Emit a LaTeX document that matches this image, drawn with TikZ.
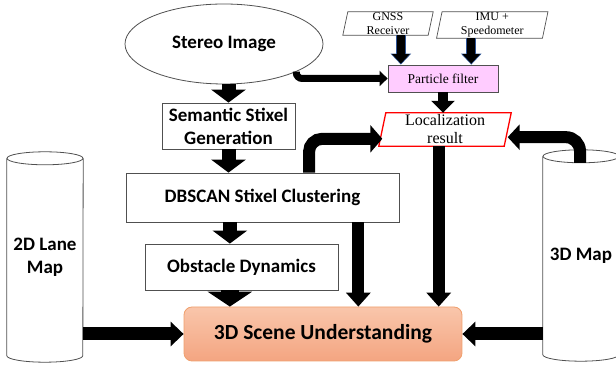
\documentclass[tikz,border=0pt]{standalone}
\usepackage{fontspec}
\setmainfont{Liberation Serif}
\newfontfamily\carl{Carlito}
\usetikzlibrary{arrows.meta,shapes.geometric,calc}
\definecolor{pfpink}{RGB}{255,204,255}
\definecolor{scenetop}{RGB}{249,198,171}
\definecolor{scenebot}{RGB}{244,165,129}
\definecolor{sceneedge}{RGB}{240,160,110}
\definecolor{gpsblue}{RGB}{47,85,151}
\definecolor{edgegray}{RGB}{80,80,80}
\newcommand\drawpara[3][]{\draw[#1] ($(#2.south west)+(-#3,0)$) -- ($(#2.north west)+(#3,0)$) -- ($(#2.north east)+(#3,0)$) -- ($(#2.south east)+(-#3,0)$) -- cycle;}
\begin{document}
\begin{tikzpicture}[x=1pt,y=1pt,
  box/.style={draw=edgegray, line width=0.8pt, rectangle, inner sep=0pt, align=center, font=\carl\bfseries\fontsize{19}{23}\selectfont},
  holder/.style={rectangle, inner sep=0pt},
  lbl/.style={align=center, inner sep=0pt},
  fat/.style n args={3}{line width=#1, -{Triangle[width=#2,length=#3]}},
  cyl/.style={draw=edgegray, line width=0.8pt},
]
\useasboundingbox (0,0) rectangle (616,366);
\clip (0,0) rectangle (616,366);
\fill[white] (0,0) rectangle (616,366);

% main nodes
\node[box, ellipse, minimum width=198pt, minimum height=80pt] (stereo) at (224,322) {Stereo Image};
\node[box, minimum width=133pt, minimum height=46pt] (sem) at (228.5,240) {Semantic Stixel\\Generation};
\node[box, minimum width=273pt, minimum height=49pt] (dbs) at (262.5,168.5) {DBSCAN Stixel Clustering};
\node[box, minimum width=193pt, minimum height=46pt] (obs) at (241.5,99) {Obstacle Dynamics};
\node[box, rounded corners=8pt, draw=sceneedge, top color=scenetop, bottom color=scenebot,
      minimum width=278pt, minimum height=54pt, font=\carl\bfseries\fontsize{21.5}{26}\selectfont] (scene) at (323,32) {3D Scene Understanding};

% cylinders
\node[lbl, minimum width=76pt, minimum height=197pt, font=\carl\bfseries\fontsize{19}{23}\selectfont] (lane) at (45,109) {2D Lane\\Map};
\draw[cyl] (lane.north west) -- (lane.south west) arc[start angle=180, end angle=360, x radius=38pt, y radius=6.5pt] -- (lane.north east);
\draw[cyl] (lane.north) ellipse[x radius=38pt, y radius=6.5pt];
\node[lbl, minimum width=76pt, minimum height=198pt, font=\carl\bfseries\fontsize{19}{23}\selectfont] (map) at (581,110.5) {3D Map};
\draw[cyl] (map.north west) -- (map.south west) arc[start angle=180, end angle=360, x radius=38pt, y radius=6.5pt] -- (map.north east);
\draw[cyl] (map.north) ellipse[x radius=38pt, y radius=6.5pt];

% sensor inputs
\node[holder, minimum width=85pt, minimum height=23pt] (gnss) at (388,342.5) {};
\drawpara[draw=edgegray, line width=0.7pt]{gnss}{2.5pt}
\node[lbl, font=\fontsize{12}{14}\selectfont] at (gnss.center) {GNSS\\Receiver};
\node[holder, minimum width=105.5pt, minimum height=26pt] (imu) at (492.25,341) {};
\drawpara[draw=edgegray, line width=0.7pt]{imu}{2.75pt}
\node[lbl, font=\fontsize{12}{13.5}\selectfont] at (imu.center) {IMU +\\Speedometer};

\node[draw=edgegray, line width=0.8pt, fill=pfpink, minimum width=110pt, minimum height=27pt, inner sep=0pt,
      font=\fontsize{13.5}{16}\selectfont] (pf) at (443,287.5) {Particle filter};

\node[holder, minimum width=125pt, minimum height=33pt] (loc) at (445,236.5) {};
\drawpara[draw=red, line width=1.3pt]{loc}{3.5pt}
\node[lbl, font=\fontsize{16}{18}\selectfont] at (loc.center) {Localization\\result};

% arrows
\draw[fat={14pt}{34pt}{13pt}] (sem.north |- stereo.south) -- (sem.north);
\draw[fat={14pt}{34pt}{13pt}] (sem.south) -- (sem.south |- dbs.north);
\coordinate (ox) at ($(obs.north west)!0.44!(obs.north east)$);
\draw[fat={14pt}{34pt}{13pt}] (ox |- dbs.south) -- (ox);
\draw[fat={18pt}{44pt}{15pt}] (ox |- obs.south) -- (ox |- scene.north);

\coordinate (dx) at ($(dbs.south west)!0.85!(dbs.south east)$);
\draw[fat={12pt}{24pt}{14pt}] (dx) -- (dx |- scene.north);
\coordinate (lx) at ($(loc.south west)!0.45!(loc.south east)$);
\draw[fat={12pt}{24pt}{14pt}] (lx) -- (lx |- scene.north);

\draw[fat={13pt}{24pt}{13pt}] (lane.east |- scene.west) -- (scene.west);
\draw[fat={13pt}{24pt}{13pt}] (map.west |- scene.east) -- (scene.east);

\coordinate (du) at ($(dbs.north west)!0.67!(dbs.north east)$);
\coordinate (lw) at ($(loc.south west)!0.22!(loc.north west)$);
\draw[fat={12pt}{27pt}{12pt}, rounded corners=13pt] (du) |- (lw);

\coordinate (mu) at ($(map.north)+(-1pt,-6.5pt)$);
\coordinate (le) at ($(loc.south east)!0.27!(loc.north east)$);
\draw[fat={12pt}{25pt}{12pt}, rounded corners=14pt] (mu) |- (le);

\draw[fat={10pt}{23pt}{12pt}] (pf.south) -- (pf.south |- loc.north);

\coordinate (gx) at ($(pf.north west)!0.12!(pf.north east)$);
\draw[gpsblue, fat={10pt}{20pt}{11pt}] (gx |- gnss.south) -- (gx);
\draw[fat={8pt}{17pt}{9.5pt}, shorten >=1pt] (gx |- gnss.south) -- (gx);
\coordinate (ix) at ($(pf.north west)!0.755!(pf.north east)$);
\draw[gpsblue, fat={10pt}{20pt}{11pt}] (ix |- imu.south) -- (ix);
\draw[fat={8pt}{17pt}{9.5pt}, shorten >=1pt] (ix |- imu.south) -- (ix);

\draw[fat={7pt}{15pt}{8pt}, rounded corners=6pt] (stereo.-21) |- (pf.west);
\end{tikzpicture}
\end{document}
